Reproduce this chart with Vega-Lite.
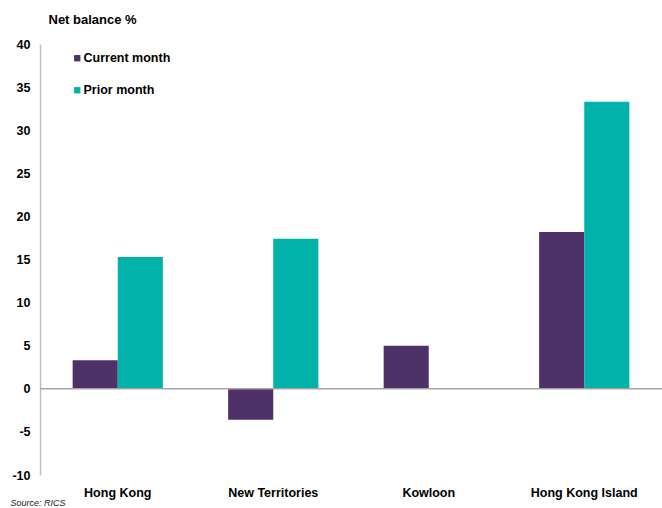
{
  "$schema": "https://vega.github.io/schema/vega-lite/v6.json",
  "autosize": {"type": "none"},
  "width": 622,
  "height": 431,
  "padding": {"left": 40, "top": 44, "right": 0, "bottom": 33},
  "background": "white",
  "config": {"view": {"stroke": null}, "font": "Liberation Sans"},
  "data": {"values": [
    {"region": "Hong Kong", "series": "Current month", "value": 3.3},
    {"region": "Hong Kong", "series": "Prior month", "value": 15.3},
    {"region": "New Territories", "series": "Current month", "value": -3.6},
    {"region": "New Territories", "series": "Prior month", "value": 17.4},
    {"region": "Kowloon", "series": "Current month", "value": 5.0},
    {"region": "Kowloon", "series": "Prior month", "value": 0},
    {"region": "Hong Kong Island", "series": "Current month", "value": 18.2},
    {"region": "Hong Kong Island", "series": "Prior month", "value": 33.3}
  ]},
  "layer": [
    {
      "mark": {"type": "bar"},
      "encoding": {
        "x": {
          "field": "region", "type": "nominal",
          "sort": ["Hong Kong", "New Territories", "Kowloon", "Hong Kong Island"],
          "scale": {"paddingInner": 0.42, "paddingOuter": 0.21},
          "axis": {
            "title": "Source: RICS",
            "titleFont": "Liberation Sans", "titleFontSize": 9, "titleFontStyle": "italic", "titleFontWeight": "normal",
            "titleColor": "#222", "titleAnchor": "start", "titleAlign": "left", "titleBaseline": "alphabetic",
            "titleX": -30, "titleY": 30,
            "domain": false, "ticks": false, "labelAngle": 0,
            "labelFont": "Liberation Sans", "labelFontSize": 12.5, "labelFontWeight": "bold", "labelColor": "#000",
            "labelPadding": 11, "labelBaseline": "top"
          }
        },
        "xOffset": {"field": "series", "type": "nominal", "sort": ["Current month", "Prior month"], "scale": {"paddingInner": 0, "paddingOuter": 0}},
        "y": {
          "field": "value", "type": "quantitative",
          "scale": {"domain": [-10, 40], "nice": false},
          "axis": {
            "values": [-10, -5, 0, 5, 10, 15, 20, 25, 30, 35, 40],
            "labelExpr": "datum.value + ''",
            "title": "Net balance %",
            "titleAngle": 0, "titleAlign": "left", "titleBaseline": "alphabetic", "titleAnchor": "start",
            "titleX": 8, "titleY": -21,
            "titleFont": "Liberation Sans", "titleFontSize": 13, "titleFontWeight": "bold", "titleColor": "#000",
            "grid": false, "ticks": false, "domainColor": "#bfbfbf", "domainWidth": 1.5,
            "labelFont": "Liberation Sans", "labelFontSize": 12.5, "labelFontWeight": "bold", "labelColor": "#000",
            "labelPadding": 10
          }
        },
        "color": {
          "field": "series", "type": "nominal",
          "scale": {"domain": ["Current month", "Prior month"], "range": ["#4E3167", "#00B2A9"]},
          "legend": {
            "title": null, "orient": "none", "legendX": 31, "legendY": 8,
            "symbolType": "square", "symbolSize": 40, "symbolStrokeWidth": 0,
            "labelFont": "Liberation Sans", "labelFontSize": 12.5, "labelFontWeight": "bold", "labelColor": "#000",
            "labelOffset": 0, "rowPadding": 19
          }
        }
      }
    },
    {
      "mark": {"type": "rule", "color": "#a6a6a6", "strokeWidth": 1.5},
      "data": {"values": [{"zero": 0}]},
      "encoding": {"y": {"field": "zero", "type": "quantitative"}}
    }
  ]
}
